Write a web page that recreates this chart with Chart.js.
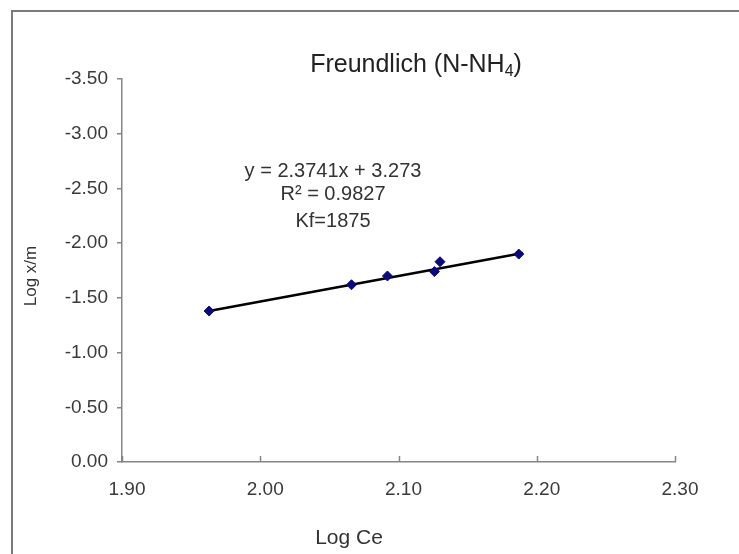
<!DOCTYPE html>
<html>
<head>
<meta charset="utf-8">
<title>Freundlich (N-NH4)</title>
<script src="https://cdn.jsdelivr.net/npm/chart.js@4.4.1/dist/chart.umd.min.js"></script>
<style>
  html, body { margin: 0; padding: 0; background: #fff; }
  #wrap { position: relative; width: 739px; height: 554px; overflow: hidden; }
  #frame { position: absolute; left: 11px; top: 10px; width: 800px; height: 600px;
           border-left: 2px solid #7a7a7a; border-top: 2px solid #7a7a7a; }
  canvas { position: absolute; left: 0; top: 0; }
</style>
</head>
<body>
<div id="wrap">
  <div id="frame"></div>
  <canvas id="chart" width="739" height="554"></canvas>
</div>
<script>
// values
const logCe = [1.963, 2.066, 2.092, 2.126, 2.130, 2.187];
const logXm = [-1.38, -1.62, -1.70, -1.74, -1.83, -1.90];

// trendline end points as drawn
const trendCe = [1.961, 2.190];
const trendXm = [-1.375, -1.91];

// axis ticks
const xTicks = [1.9, 2.0, 2.1, 2.2, 2.3];
const yTicks = [0, -0.5, -1.0, -1.5, -2.0, -2.5, -3.0, -3.5];

const chartTitle = "Freundlich (N-NH";
const titleSub = "4";
const xTitle = "Log Ce";
const yTitle = "Log x/m";
const fitText = ["y = 2.3741x + 3.273", "R\u00B2 = 0.9827", "Kf=1875"];

const FONT = '"Liberation Sans", Arial, sans-serif';
const AXIS = "#858585";

// ticks on the x axis point up into the plot
const innerTicks = {
  id: "innerTicks",
  afterDatasetsDraw(chart) {
    const { ctx, scales: { x } } = chart;
    ctx.save();
    ctx.strokeStyle = AXIS;
    ctx.lineWidth = 1.5;
    x.ticks.forEach(t => {
      const px = Math.round(x.getPixelForValue(t.value)) + 0.5;
      ctx.beginPath();
      ctx.moveTo(px, x.top);
      ctx.lineTo(px, x.top - 6);
      ctx.stroke();
    });
    ctx.restore();
  }
};

// title, axis titles and the fit equation
const texts = {
  id: "texts",
  afterDraw(chart) {
    const { ctx } = chart;
    ctx.save();
    ctx.fillStyle = "#222";
    ctx.textBaseline = "alphabetic";

    // title with subscript
    ctx.font = "25px " + FONT;
    const w1 = ctx.measureText(chartTitle).width;
    const w3 = ctx.measureText(")").width;
    ctx.font = "16px " + FONT;
    const w2 = ctx.measureText(titleSub).width;
    let tx = 416 - (w1 + w2 + w3) / 2;
    ctx.textAlign = "left";
    ctx.font = "25px " + FONT;
    ctx.fillText(chartTitle, tx, 72);
    ctx.font = "16px " + FONT;
    ctx.fillText(titleSub, tx + w1, 76);
    ctx.font = "25px " + FONT;
    ctx.fillText(")", tx + w1 + w2, 72);

    // fit equation
    ctx.fillStyle = "#333";
    ctx.textAlign = "center";
    ctx.font = "20px " + FONT;
    ctx.fillText(fitText[0], 333, 177);
    ctx.fillText(fitText[1], 333, 200);
    ctx.fillText(fitText[2], 333, 227);

    // axis titles
    ctx.font = "21px " + FONT;
    ctx.fillText(xTitle, 349, 544);
    ctx.translate(36, 276);
    ctx.rotate(-Math.PI / 2);
    ctx.font = "17px " + FONT;
    ctx.fillText(yTitle, 0, 0);
    ctx.restore();
  }
};

new Chart(document.getElementById("chart"), {
  type: "scatter",
  data: {
    datasets: [
      {
        label: "data",
        data: logCe.map((v, i) => ({ x: v, y: logXm[i] })),
        pointStyle: "rectRot",
        pointRadius: 5,
        pointBackgroundColor: "#0a0a78",
        pointBorderColor: "#0a0a78",
        pointBorderWidth: 1,
        showLine: false
      },
      {
        label: "trend",
        data: trendCe.map((v, i) => ({ x: v, y: trendXm[i] })),
        showLine: true,
        borderColor: "#000",
        borderWidth: 2.5,
        pointRadius: 0
      }
    ]
  },
  options: {
    responsive: false,
    animation: false,
    devicePixelRatio: 1,
    layout: { padding: { left: 0, right: 64, top: 79, bottom: 0 } },
    plugins: { legend: { display: false }, tooltip: { enabled: false } },
    scales: {
      x: {
        type: "linear",
        min: 1.9,
        max: 2.3,
        afterBuildTicks: s => { s.ticks = xTicks.map(v => ({ value: v })); },
        afterFit: s => { s.height = 92; },
        grid: { display: false, drawTicks: false },
        border: { display: true, color: AXIS, width: 1.5 },
        ticks: {
          padding: 16,
          labelOffset: 5,
          color: "#3a3a3a",
          font: { family: FONT, size: 19 },
          callback: v => Number(v).toFixed(2)
        }
      },
      y: {
        type: "linear",
        reverse: true,
        min: -3.5,
        max: 0,
        afterBuildTicks: s => { s.ticks = yTicks.map(v => ({ value: v })); },
        afterFit: s => { s.width = 122; },
        grid: { display: true, drawOnChartArea: false, drawTicks: true, tickLength: 5, color: AXIS, lineWidth: 1.5 },
        border: { display: true, color: AXIS, width: 1.5 },
        ticks: {
          padding: 9,
          color: "#3a3a3a",
          font: { family: FONT, size: 19 },
          callback: v => Number(v).toFixed(2)
        }
      }
    }
  },
  plugins: [innerTicks, texts]
});
</script>
</body>
</html>
